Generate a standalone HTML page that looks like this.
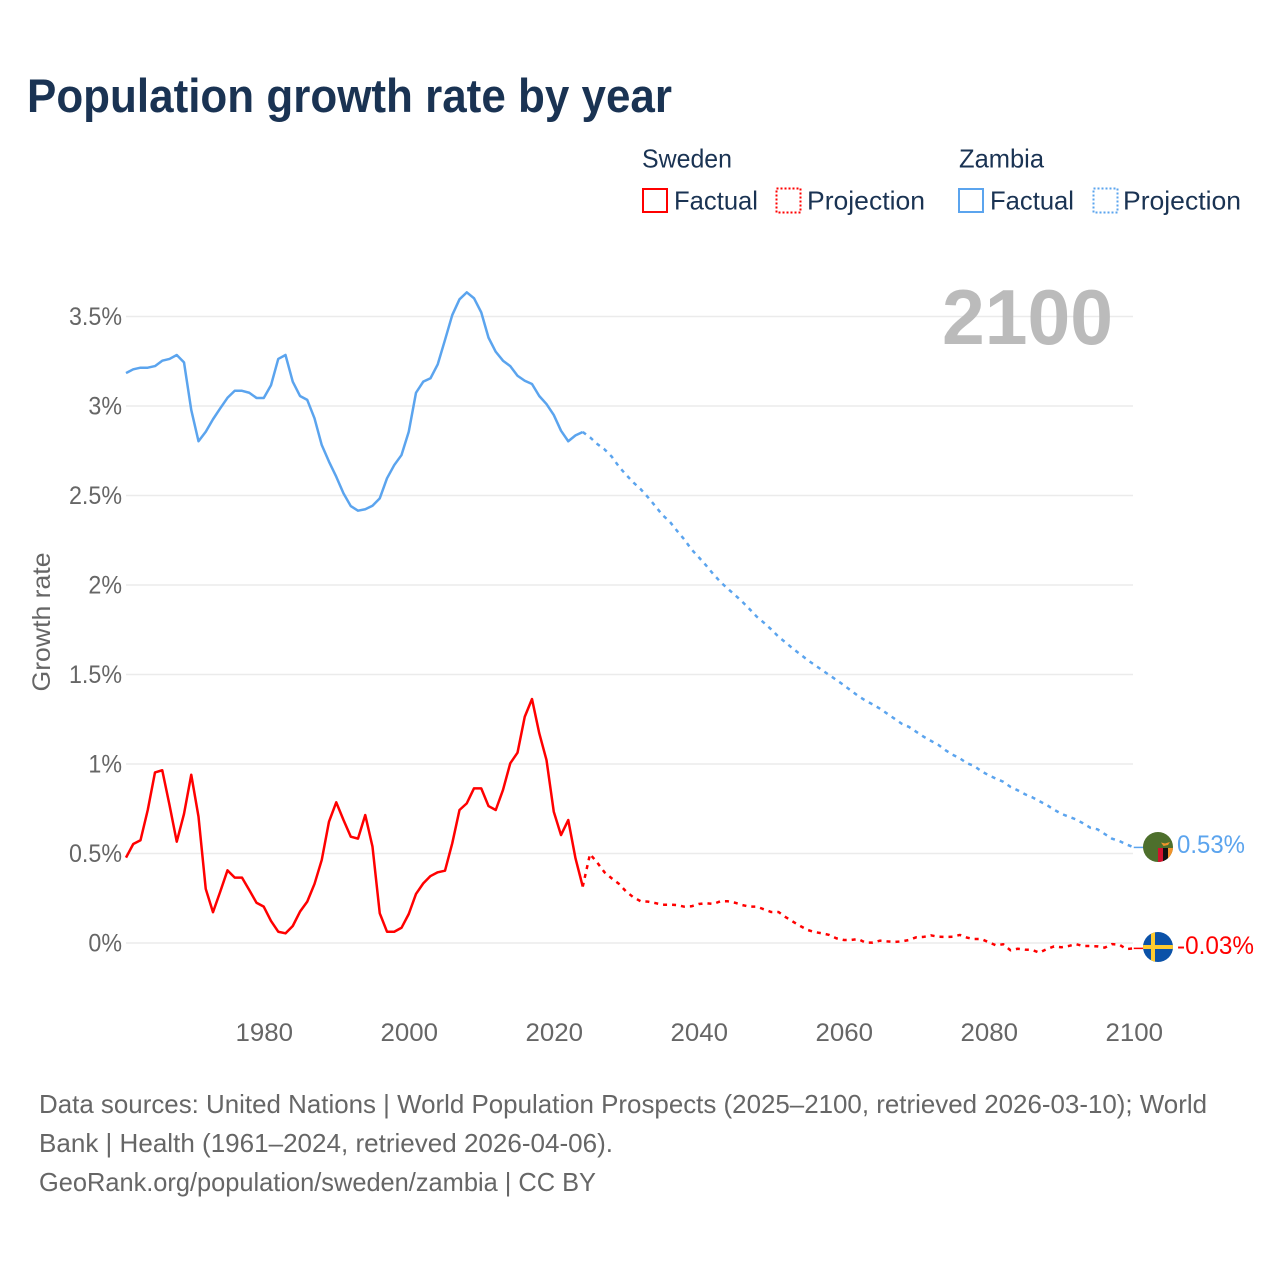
<!DOCTYPE html>
<html lang="en">
<head>
<meta charset="utf-8">
<title>Population growth rate by year</title>
<style>
html,body{margin:0;padding:0;background:#fff;}
svg{display:block;font-family:"Liberation Sans",sans-serif;}
</style>
</head>
<body>
<svg id="chart" width="1280" height="1280" viewBox="0 0 1280 1280" xmlns="http://www.w3.org/2000/svg">
  <rect width="1280" height="1280" fill="#fff"/>
  <text x="27" y="112" font-size="47" font-weight="700" fill="#1a3353" textLength="645" lengthAdjust="spacingAndGlyphs">Population growth rate by year</text>

  <g font-size="26" fill="#1a3353">
    <text x="642" y="167.5" textLength="90" lengthAdjust="spacingAndGlyphs">Sweden</text>
    <text x="959" y="167.5" textLength="85" lengthAdjust="spacingAndGlyphs">Zambia</text>
    <rect x="643" y="189" width="24" height="23" fill="none" stroke="#ff0000" stroke-width="2"/>
    <text x="674" y="209.5" textLength="84" lengthAdjust="spacingAndGlyphs">Factual</text>
    <rect x="776.5" y="188.5" width="24" height="24" fill="none" stroke="#ff0000" stroke-width="2" stroke-dasharray="2 2"/>
    <text x="807" y="209.5" textLength="118" lengthAdjust="spacingAndGlyphs">Projection</text>
    <rect x="959" y="189" width="24" height="23" fill="none" stroke="#5ba4ee" stroke-width="2"/>
    <text x="990" y="209.5" textLength="84" lengthAdjust="spacingAndGlyphs">Factual</text>
    <rect x="1093.5" y="188.5" width="24" height="24" fill="none" stroke="#5ba4ee" stroke-width="2" stroke-dasharray="2 2"/>
    <text x="1123" y="209.5" textLength="118" lengthAdjust="spacingAndGlyphs">Projection</text>
  </g>

  <g id="grid"></g>
  <g id="yticks" font-size="25" fill="#666"></g>
  <g id="xticks" font-size="25" fill="#666"></g>

  <text transform="translate(50,622) rotate(-90)" text-anchor="middle" font-size="25" fill="#666" textLength="139" lengthAdjust="spacingAndGlyphs">Growth rate</text>

  <text x="942" y="344" font-size="78" font-weight="700" fill="#bbbbbb" textLength="171" lengthAdjust="spacingAndGlyphs">2100</text>

  <g id="series"></g>

  <defs>
    <clipPath id="clip-zambia"><circle cx="1158" cy="847" r="15"/></clipPath>
    <clipPath id="clip-sweden"><circle cx="1158" cy="947" r="15"/></clipPath>
  </defs>
  <g clip-path="url(#clip-zambia)">
    <rect x="1143" y="832" width="30" height="30" fill="#4d6f2c"/>
    <rect x="1158" y="848" width="5" height="14" fill="#d2122e"/>
    <rect x="1163" y="848" width="5" height="14" fill="#111"/>
    <rect x="1168" y="848" width="5" height="14" fill="#f0932b"/>
    <path d="M1161 842.5 L1165 843.5 L1170 842 L1168 845 L1163.5 846 Z" fill="#f0932b"/>
  </g>
  <g clip-path="url(#clip-sweden)">
    <rect x="1143" y="932" width="30" height="30" fill="#0b52a8"/>
    <rect x="1151" y="932" width="4" height="30" fill="#fecb2f"/>
    <rect x="1143" y="945" width="30" height="4" fill="#fecb2f"/>
  </g>
  <text x="1177" y="853" font-size="25" fill="#5ba4ee" textLength="68" lengthAdjust="spacingAndGlyphs">0.53%</text>
  <text x="1177" y="954" font-size="25" fill="#ff0000" textLength="77" lengthAdjust="spacingAndGlyphs">-0.03%</text>

  <g font-size="26" fill="#666">
    <text x="39" y="1113" textLength="1168" lengthAdjust="spacingAndGlyphs">Data sources: United Nations | World Population Prospects (2025–2100, retrieved 2026-03-10); World</text>
    <text x="39" y="1152" textLength="574" lengthAdjust="spacingAndGlyphs">Bank | Health (1961–2024, retrieved 2026-04-06).</text>
    <text x="39" y="1191" textLength="557" lengthAdjust="spacingAndGlyphs">GeoRank.org/population/sweden/zambia | CC BY</text>
  </g>
</svg>
<script>
var xTickYears = [1980, 2000, 2020, 2040, 2060, 2080, 2100];
var yTickValues = [0, 0.5, 1, 1.5, 2, 2.5, 3, 3.5];
var yTickLabels = ["0%", "0.5%", "1%", "1.5%", "2%", "2.5%", "3%", "3.5%"];
var firstFactualYear = 1961;
var firstProjectionYear = 2024;

var zambiaFactual = [3.184,3.205,3.214,3.214,3.223,3.253,3.263,3.285,3.244,2.978,2.803,2.856,2.926,2.987,3.046,3.085,3.085,3.074,3.045,3.045,3.116,3.263,3.285,3.136,3.056,3.034,2.931,2.782,2.689,2.605,2.512,2.441,2.415,2.423,2.443,2.484,2.596,2.670,2.726,2.856,3.074,3.136,3.155,3.233,3.369,3.508,3.596,3.635,3.602,3.523,3.382,3.303,3.253,3.223,3.169,3.141,3.123,3.056,3.011,2.950,2.862,2.803,2.836,2.855];
var zambiaProjection = [2.855,2.825,2.788,2.758,2.717,2.661,2.615,2.572,2.535,2.490,2.441,2.391,2.354,2.303,2.255,2.199,2.155,2.110,2.061,2.017,1.979,1.944,1.907,1.866,1.823,1.789,1.752,1.711,1.678,1.644,1.613,1.581,1.553,1.525,1.497,1.469,1.441,1.410,1.380,1.354,1.333,1.309,1.281,1.253,1.225,1.207,1.180,1.153,1.130,1.108,1.078,1.052,1.032,1.004,0.989,0.959,0.937,0.918,0.901,0.872,0.853,0.831,0.814,0.792,0.771,0.745,0.722,0.706,0.691,0.669,0.644,0.635,0.609,0.583,0.570,0.551,0.534];
var swedenFactual = [0.477,0.553,0.574,0.743,0.953,0.965,0.771,0.566,0.721,0.940,0.706,0.302,0.172,0.287,0.406,0.365,0.365,0.296,0.225,0.203,0.123,0.063,0.054,0.095,0.175,0.231,0.330,0.464,0.678,0.786,0.687,0.594,0.583,0.715,0.538,0.166,0.063,0.063,0.085,0.162,0.274,0.333,0.374,0.395,0.404,0.557,0.743,0.780,0.864,0.864,0.765,0.743,0.855,1.004,1.063,1.264,1.363,1.172,1.022,0.734,0.603,0.687,0.473,0.315];
var swedenProjection = [0.315,0.497,0.449,0.395,0.361,0.330,0.287,0.255,0.233,0.231,0.223,0.214,0.214,0.212,0.203,0.205,0.218,0.222,0.218,0.233,0.233,0.225,0.212,0.203,0.203,0.188,0.173,0.173,0.144,0.119,0.095,0.073,0.061,0.054,0.045,0.026,0.017,0.017,0.022,0.002,0.002,0.013,0.009,0.006,0.009,0.017,0.032,0.034,0.043,0.035,0.034,0.035,0.045,0.030,0.022,0.022,0.004,-0.013,-0.007,-0.041,-0.032,-0.037,-0.039,-0.054,-0.034,-0.019,-0.024,-0.017,-0.006,-0.017,-0.017,-0.019,-0.026,-0.006,-0.009,-0.034,-0.030];

var NS = "http://www.w3.org/2000/svg";
function xScale(year) { return 126 + (year - 1961) * 7.25; }
function yScale(value) { return 943 - value * 179; }
function linePath(values, startYear) {
  return values.map(function (v, i) {
    return (i ? "L" : "M") + xScale(startYear + i).toFixed(2) + " " + yScale(v).toFixed(2);
  }).join(" ");
}
function make(tag, parent, attrs) {
  var el = document.createElementNS(NS, tag);
  for (var k in attrs) el.setAttribute(k, attrs[k]);
  parent.appendChild(el);
  return el;
}

var gridGroup = document.getElementById("grid");
var yTickGroup = document.getElementById("yticks");
yTickValues.forEach(function (v, i) {
  var line = make("line", gridGroup, { x1: 126, x2: 1133, y1: yScale(v), y2: yScale(v), stroke: "#ebebeb", "stroke-width": 1.4 });
  
  
  var label = make("text", yTickGroup, { x: 122, y: yScale(v) + 8.5, "text-anchor": "end" });
  
  
  label.textContent = yTickLabels[i];
  label.setAttribute("textLength", (label.getComputedTextLength() * 0.93).toFixed(1));
  label.setAttribute("lengthAdjust", "spacingAndGlyphs");
});

var xTickGroup = document.getElementById("xticks");
xTickYears.forEach(function (year) {
  var label = make("text", xTickGroup, { x: xScale(year) + 0.5, y: 1041, "text-anchor": "middle" });
  
  
  label.textContent = year;
  label.setAttribute("textLength", "57.5");
  label.setAttribute("lengthAdjust", "spacingAndGlyphs");
});

var seriesGroup = document.getElementById("series");
function drawSeries(values, startYear, color, dashed, name) {
  var attrs = { d: linePath(values, startYear), fill: "none", stroke: color, "stroke-width": 2.5, "stroke-linejoin": "round" };
  if (dashed) attrs["stroke-dasharray"] = "4 5";
  var path = make("path", seriesGroup, attrs);
  
  
}
drawSeries(zambiaProjection, firstProjectionYear, "#5ba4ee", true, "zambia-projection-line");
drawSeries(swedenProjection, firstProjectionYear, "#ff0000", true, "sweden-projection-line");
drawSeries(zambiaFactual, firstFactualYear, "#5ba4ee", false, "zambia-factual-line");
drawSeries(swedenFactual, firstFactualYear, "#ff0000", false, "sweden-factual-line");

var zambiaEndY = yScale(zambiaProjection[zambiaProjection.length - 1]);
var zambiaEnd = make("line", seriesGroup, { x1: xScale(2100), x2: 1144, y1: zambiaEndY, y2: zambiaEndY, stroke: "#5ba4ee", "stroke-width": 1.5 });


var swedenEndY = yScale(swedenProjection[swedenProjection.length - 1]);
var swedenEnd = make("line", seriesGroup, { x1: xScale(2100), x2: 1144, y1: swedenEndY, y2: swedenEndY, stroke: "#ff0000", "stroke-width": 1.5 });


</script>
</body>
</html>
